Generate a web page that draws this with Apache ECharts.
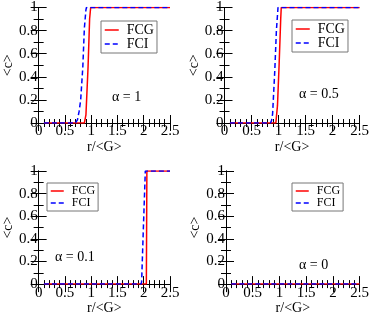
<!DOCTYPE html>
<html><head><meta charset="utf-8">
<script src="https://cdn.jsdelivr.net/npm/echarts@6/dist/echarts.min.js"></script>
<style>html,body{margin:0;padding:0;background:#fff}#c{width:372px;height:316px}</style>
</head><body><div id="c"></div>
<script>
// ---- data ----
const alphaLabels = ['α = 1', 'α = 0.5', 'α = 0.1', 'α = 0'];
const seriesNames = ['FCG', 'FCI'];

// alpha = 1
const r_FCG_a1 = [0.1, 0.87, 0.88, 0.90, 0.94, 0.97, 0.99, 2.5];
const c_FCG_a1 = [0,   0,    0.01, 0.07, 0.48, 0.90, 1,    1];
const r_FCI_a1 = [0.1, 0.70, 0.74, 0.77, 0.80, 0.84, 0.87, 0.90, 0.91, 2.5];
const c_FCI_a1 = [0,   0,    0.03, 0.10, 0.20, 0.48, 0.82, 0.98, 1,    1];

// alpha = 0.5
const r_FCG_a05 = [0.1, 0.95, 0.96, 0.98, 1.01, 1.04, 1.05, 2.5];
const c_FCG_a05 = [0,   0,    0.01, 0.15, 0.50, 0.90, 1,    1];
const r_FCI_a05 = [0.1, 0.85, 0.87, 0.89, 0.93, 0.96, 0.99, 2.5];
const c_FCI_a05 = [0,   0,    0.02, 0.08, 0.45, 0.80, 1,    1];

// alpha = 0.1
const r_FCG_a01 = [0.1, 2.05, 2.06, 2.5];
const c_FCG_a01 = [0,   0,    1,    1];
const r_FCI_a01 = [0.1, 1.95, 1.96, 1.99, 2.03, 2.5];
const c_FCI_a01 = [0,   0,    0.02, 0.45, 1,    1];

// alpha = 0
const r_FCG_a0 = [0.1, 2.5];
const c_FCG_a0 = [0,   0];
const r_FCI_a0 = [0.1, 2.5];
const c_FCI_a0 = [0,   0];

const panels = [
  [[r_FCG_a1, c_FCG_a1], [r_FCI_a1, c_FCI_a1]],
  [[r_FCG_a05, c_FCG_a05], [r_FCI_a05, c_FCI_a05]],
  [[r_FCG_a01, c_FCG_a01], [r_FCI_a01, c_FCI_a01]],
  [[r_FCG_a0, c_FCG_a0], [r_FCI_a0, c_FCI_a0]]
];

// ---- layout ----
const FONT = 'Liberation Serif';
const grids = [
  {left: 31, top: 5, width: 139, height: 118},
  {left: 224.5, top: 5, width: 139, height: 118},
  {left: 31, top: 171, width: 139, height: 118},
  {left: 226, top: 171, width: 137.5, height: 118}
];
const legendPos = [
  {left: 101, top: 21, fs: 14, iw: 14},
  {left: 292, top: 20, fs: 14, iw: 14},
  {left: 47, top: 183, fs: 12, iw: 13},
  {left: 292, top: 183, fs: 12, iw: 13}
];
const alphaPos = [[112, 98], [299, 95], [55, 258], [299, 266]];
const colors = ['#ff0000', '#0000ff'];
const zip = (a, b) => a.map((v, i) => [v, b[i]]);

const xAxis = [], yAxis = [], series = [], legend = [], graphic = [];
grids.forEach((g, i) => {
  const tick = {show: true, inside: true, length: 8, lineStyle: {color: '#000'}};
  const line = {show: true, lineStyle: {color: '#000', width: 1}};
  xAxis.push({
    type: 'value', gridIndex: i, position: 'bottom', min: 0, max: 2.5, interval: 0.5,
    axisLine: line, axisTick: tick,
    minorTick: {show: true, splitNumber: 5, length: 4, lineStyle: {color: '#000'}},
    splitLine: {show: false},
    axisLabel: {color: '#000', fontFamily: FONT, fontSize: 15, margin: 1, hideOverlap: false},
    name: 'r/<G>', nameLocation: 'middle', nameGap: 16,
    nameTextStyle: {color: '#000', fontFamily: FONT, fontSize: 14}
  });
  xAxis.push({
    type: 'value', gridIndex: i, position: 'top', min: 0, max: 2.5, interval: 0.5,
    axisLine: line, axisTick: tick,
    minorTick: {show: true, splitNumber: 5, length: 4, lineStyle: {color: '#000'}},
    splitLine: {show: false}, axisLabel: {show: false}
  });
  yAxis.push({
    type: 'value', gridIndex: i, position: 'left', min: 0, max: 1, interval: 0.2,
    axisLine: line, axisTick: tick,
    minorTick: {show: true, splitNumber: 2, length: 5, lineStyle: {color: '#000'}},
    splitLine: {show: false},
    axisLabel: {color: '#000', fontFamily: FONT, fontSize: 15, margin: 1},
    name: '<c>', nameLocation: 'middle', nameGap: 23,
    nameTextStyle: {color: '#000', fontFamily: FONT, fontSize: 14}
  });
  yAxis.push({
    type: 'value', gridIndex: i, position: 'right', min: 0, max: 1, interval: 0.2,
    axisLine: line, axisTick: tick,
    minorTick: {show: true, splitNumber: 2, length: 5, lineStyle: {color: '#000'}},
    splitLine: {show: false}, axisLabel: {show: false}
  });
  panels[i].forEach((s, k) => {
    series.push({
      name: seriesNames[k], type: 'line', xAxisIndex: 2 * i, yAxisIndex: 2 * i,
      data: zip(s[0], s[1]), symbol: 'circle', showSymbol: false, silent: true,
      lineStyle: {color: colors[k], width: 1.5, type: k === 1 ? [5, 3] : 'solid'},
      itemStyle: {color: colors[k]}
    });
  });
  const lp = legendPos[i];
  legend.push({
    data: seriesNames, orient: 'vertical', left: lp.left, top: lp.top,
    itemWidth: lp.iw, itemHeight: 12, itemGap: 0,
    padding: [2, 3, 2, 3],
    borderColor: '#777', borderWidth: 1, borderRadius: 0,
    itemStyle: {opacity: 0},
    lineStyle: {width: 1.5},
    textStyle: {color: '#000', fontFamily: FONT, fontSize: lp.fs, lineHeight: 12, padding: [0, 0, 0, 3]},
    selectedMode: false
  });
  graphic.push({
    type: 'text', left: alphaPos[i][0], top: alphaPos[i][1] - 8,
    style: {text: alphaLabels[i], fill: '#000', font: '14px "' + FONT + '"'}
  });
});

const chart = echarts.init(document.getElementById('c'), null, {renderer: 'canvas'});
chart.setOption({
  animation: false,
  grid: grids.map(g => Object.assign({containLabel: false}, g)),
  xAxis, yAxis, series, legend, graphic
});
</script></body></html>
